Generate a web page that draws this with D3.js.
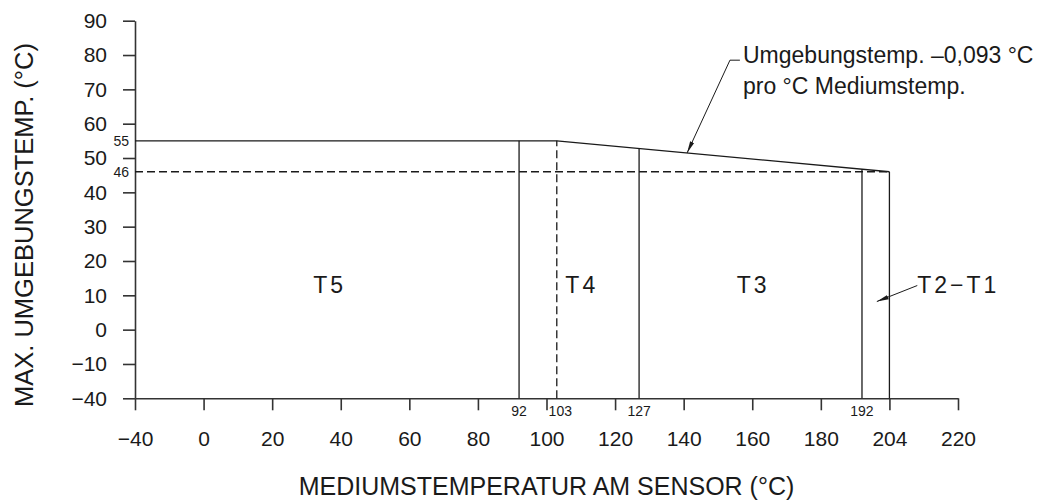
<!DOCTYPE html>
<html>
<head>
<meta charset="utf-8">
<script src="https://cdn.jsdelivr.net/npm/d3@7"></script>
<style>
  html, body { margin: 0; padding: 0; background: #fff; }
  svg { display: block; }
  text { font-family: "Liberation Sans", Arial, Helvetica, sans-serif; fill: #1a1a1a; }
</style>
</head>
<body>
<svg id="chart" width="1052" height="502"></svg>
<script>
// ---- data ----
const xTicks = [-40, 0, 20, 40, 60, 80, 100, 120, 140, 160, 180, 204, 220];
const yTicks = [-40, -10, 0, 10, 20, 30, 40, 50, 60, 70, 80, 90];
const limitTemp = [-40, 103, 204];        // medium temperature (°C)
const limitAmbient = [55, 55, 46];        // max ambient temperature (°C)
const boundaryTemps = [92, 103, 127, 192, 204];
const boundaryDashed = [false, true, false, false, false];
const boundaryLabels = ["92", "103", "127", "192", ""];
const refLevels = [55, 46];
const refDashed = [false, true];
const classNames = ["T5", "T4", "T3", "T2\u2212T1"];
const classPos = [32, 105.5, 155.5, 210.5];
const classAmbient = [13, 13, 13, 13];
const noteLines = ["Umgebungstemp. \u20130,093 \u00B0C", "pro \u00B0C Mediumstemp."];

// ---- scales (axes are broken: -40 sits at the -20 slot, 204 at the 200 slot) ----
const svg = d3.select("#chart");
const xBase = d3.scaleLinear().domain([-20, 220]).range([135, 958]);
const yBase = d3.scaleLinear().domain([-20, 90]).range([398.3, 20.7]);
const x = d3.scaleLinear()
  .domain([-40, 0, 192, 204, 220])
  .range([xBase(-20), xBase(0), xBase(192), xBase(200), xBase(220)]);
const y = d3.scaleLinear()
  .domain([-40, -10, 90])
  .range([yBase(-20), yBase(-10), yBase(90)]);

const fmt = d => (d < 0 ? "\u2212" + Math.abs(d) : String(d));
const ink = "#1a1a1a";

// ---- axes ----
const xAxis = svg.append("g")
  .attr("transform", `translate(0,${y(-40)})`)
  .call(d3.axisBottom(x).tickValues(xTicks).tickFormat(fmt)
    .tickSize(12).tickSizeOuter(0).tickPadding(21));
const yAxis = svg.append("g")
  .attr("transform", `translate(${x(-40)},0)`)
  .call(d3.axisLeft(y).tickValues(yTicks).tickFormat(fmt)
    .tickSize(12).tickSizeOuter(0).tickPadding(16));
[xAxis, yAxis].forEach(g => {
  g.selectAll("path.domain, line").attr("stroke", "#333").attr("stroke-width", 1.6);
  g.selectAll("text").style("font-size", "21px").attr("fill", ink);
});

// ---- limit curve ----
const limitPts = limitTemp.map((t, i) => [x(t), y(limitAmbient[i])]);
svg.append("path")
  .attr("d", d3.line()(limitPts))
  .attr("fill", "none").attr("stroke", ink).attr("stroke-width", 1.3);

// pixel y of the limit curve at a given medium temperature
function topAt(t) {
  const px = x(t);
  for (let i = 0; i < limitPts.length - 1; i++) {
    const [x0, y0] = limitPts[i], [x1, y1] = limitPts[i + 1];
    if (px >= x0 - 0.01 && px <= x1 + 0.01) {
      return y0 + (y1 - y0) * (px - x0) / (x1 - x0);
    }
  }
  return limitPts[limitPts.length - 1][1];
}

// ---- reference levels ----
refLevels.forEach((v, i) => {
  if (refDashed[i]) {
    svg.append("line")
      .attr("x1", x(-40)).attr("x2", x(204))
      .attr("y1", y(v)).attr("y2", y(v))
      .attr("stroke", ink).attr("stroke-width", 1.3)
      .attr("stroke-dasharray", "8,4");
  }
  svg.append("text")
    .attr("x", x(-40) - 6).attr("y", y(v) + 5)
    .attr("text-anchor", "end")
    .style("font-size", "14px")
    .text(v);
});

// ---- temperature class boundaries ----
boundaryTemps.forEach((t, i) => {
  svg.append("line")
    .attr("x1", x(t)).attr("x2", x(t))
    .attr("y1", y(-40)).attr("y2", topAt(t))
    .attr("stroke", ink).attr("stroke-width", 1.3)
    .attr("stroke-dasharray", boundaryDashed[i] ? "8,4" : null);
  if (boundaryLabels[i]) {
    svg.append("text")
      .attr("x", x(t) + (boundaryDashed[i] ? 3.5 : 0)).attr("y", y(-40) + 18)
      .attr("text-anchor", "middle")
      .style("font-size", "14px")
      .text(boundaryLabels[i]);
  }
});

// ---- class labels ----
classNames.forEach((n, i) => {
  svg.append("text")
    .attr("x", x(classPos[i])).attr("y", y(classAmbient[i]) + 8)
    .style("font-size", "23px")
    .style("letter-spacing", "3px")
    .text(n);
});

// ---- arrows ----
const defs = svg.append("defs");
defs.append("marker")
  .attr("id", "arr").attr("viewBox", "0 0 12 6")
  .attr("refX", 12).attr("refY", 3)
  .attr("markerWidth", 12).attr("markerHeight", 6)
  .attr("markerUnits", "userSpaceOnUse")
  .attr("orient", "auto")
  .append("path").attr("d", "M0,0.8 L12,3 L0,5.2 Z").attr("fill", ink);

// T2-T1 leader
const t21x = x(classPos[3]);
svg.append("line")
  .attr("x1", t21x).attr("y1", y(classAmbient[3]) + 0.5)
  .attr("x2", x(198.5)).attr("y2", y(classAmbient[3]) + 16.5)
  .attr("stroke", ink).attr("stroke-width", 1)
  .attr("marker-end", "url(#arr)");

// note leader pointing at the sloped limit line
const noteT = 141;
const tipX = x(noteT), tipY = topAt(noteT);
svg.append("path")
  .attr("d", `M${x(156.4)},${y(78.5)} L${x(153.5)},${y(78.5)} L${tipX},${tipY}`)
  .attr("fill", "none").attr("stroke", ink).attr("stroke-width", 1)
  .attr("marker-end", "url(#arr)");

const note = svg.append("text")
  .attr("x", x(157.3)).attr("y", 63)
  .style("font-size", "23px");
noteLines.forEach((l, i) => {
  note.append("tspan").attr("x", x(157.3)).attr("dy", i === 0 ? 0 : 31).text(l);
});

// ---- axis titles ----
svg.append("text")
  .attr("x", xBase(100)).attr("y", 495)
  .attr("text-anchor", "middle")
  .style("font-size", "25px")
  .text("MEDIUMSTEMPERATUR AM SENSOR (\u00B0C)");
svg.append("text")
  .attr("transform", `translate(33,225) rotate(-90)`)
  .attr("text-anchor", "middle")
  .style("font-size", "25.5px")
  .text("MAX. UMGEBUNGSTEMP. (\u00B0C)");
</script>
</body>
</html>
